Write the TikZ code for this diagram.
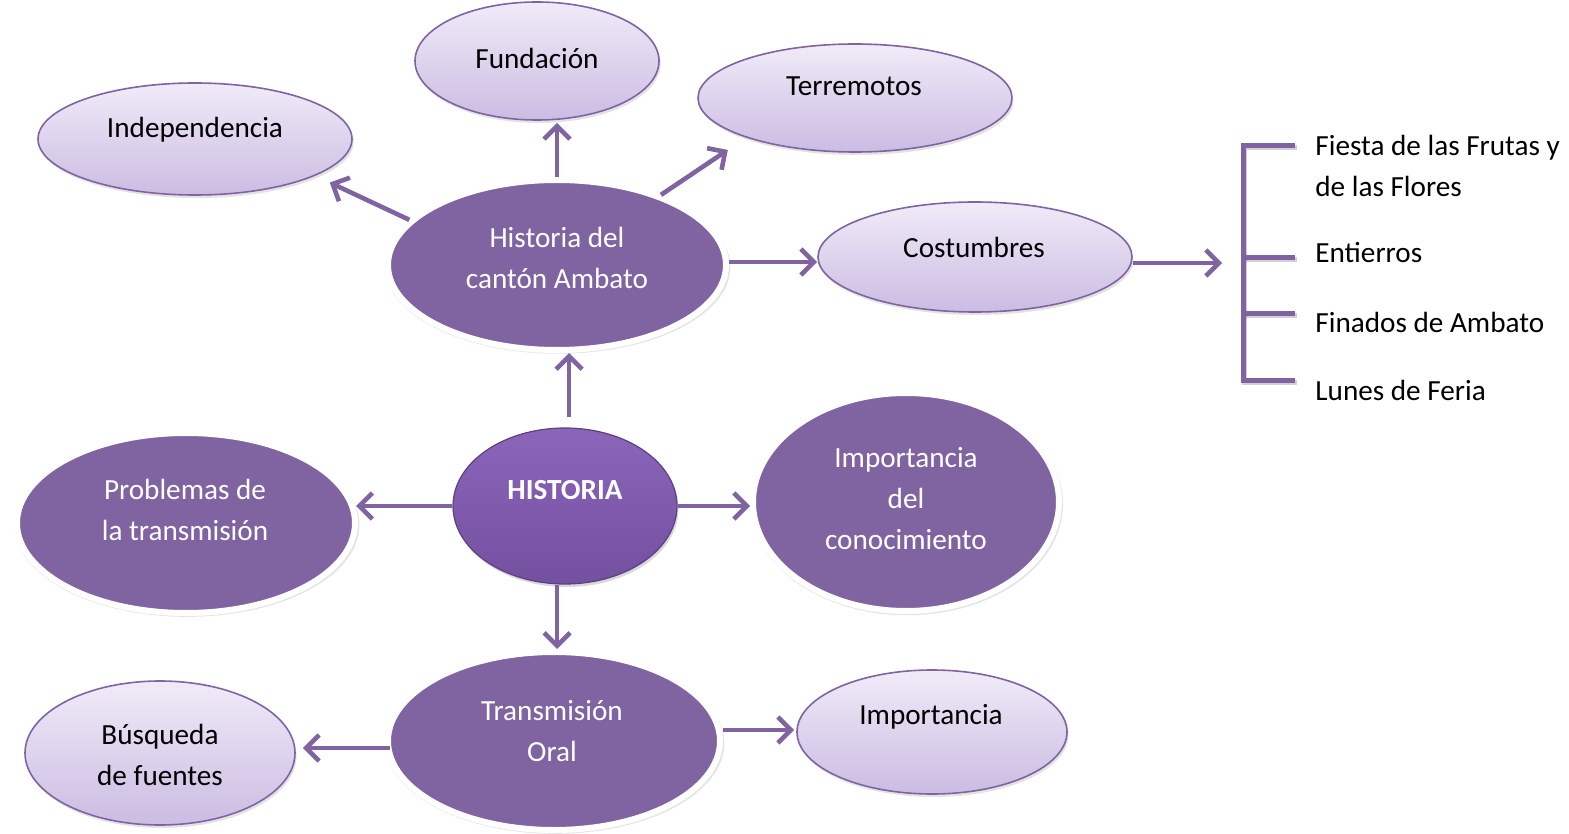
\documentclass[tikz,border=0pt]{standalone}
\usepackage{fontspec}
\setmainfont{Carlito}
\usetikzlibrary{shapes.geometric,arrows.meta,shadows,calc}
\definecolor{pur}{HTML}{8064A2}
\definecolor{ltop}{HTML}{F0EBF8}
\definecolor{lbot}{HTML}{CBBCE2}
\definecolor{htop}{HTML}{8B65BA}
\definecolor{hbot}{HTML}{7450A0}
\definecolor{hbrd}{HTML}{5B4180}
\begin{document}
\begin{tikzpicture}[x=0.5pt,y=-0.5pt,
  light/.style={ellipse, inner sep=0pt, top color=ltop, bottom color=lbot, draw=pur, line width=0.8pt,
    drop shadow={shadow xshift=0.8pt, shadow yshift=-1.5pt, opacity=0.22}},
  dark/.style={ellipse, inner sep=0pt, fill=pur, draw=white, line width=3pt,
    drop shadow={shadow xshift=0.5pt, shadow yshift=-1pt, opacity=0.22, shadow scale=1.02}},
  hist/.style={ellipse, inner sep=0pt, top color=htop, bottom color=hbot, draw=hbrd, line width=0.6pt,
    drop shadow={shadow xshift=0.8pt, shadow yshift=-1.5pt, opacity=0.3}},
  lt/.style={font=\fontsize{14.6}{20.5}\selectfont, text=black, align=center, inner sep=0pt},
  dt/.style={lt, text=white},
  arr/.style={draw=pur, line width=2.3pt, -{Straight Barb[length=6.5pt,width=13pt]}},
  brk/.style={draw=pur, line width=2.5pt},
  brks/.style={draw=black, opacity=0.18, line width=2.5pt}
]
\useasboundingbox (0,0) rectangle (1569,834);

% ellipses
\node[light, minimum width=157pt, minimum height=56pt] (ind) at (195,139) {};
\node[light, minimum width=122pt, minimum height=59pt] (fun) at (537,61) {};
\node[light, minimum width=157pt, minimum height=54pt] (ter) at (855,98) {};
\node[dark, minimum width=169pt, minimum height=85pt] (hca) at (557,265) {};
\node[light, minimum width=157pt, minimum height=55pt] (cos) at (975,257) {};
\node[hist, minimum width=112pt, minimum height=78pt] (his) at (565,506) {};
\node[dark, minimum width=169pt, minimum height=90pt] (pro) at (186,523) {};
\node[dark, minimum width=153pt, minimum height=109pt] (imc) at (906,502) {};
\node[dark, minimum width=166pt, minimum height=89pt] (tra) at (554,741) {};
\node[light, minimum width=135pt, minimum height=72pt] (bus) at (160,753) {};
\node[light, minimum width=135pt, minimum height=62pt] (imp) at (932,732) {};

% texts
\node[lt] (ind-t) at (195,130) {Independencia};
\node[lt] (fun-t) at (537,58) {Fundación};
\node[lt] (ter-t) at (854,86) {Terremotos};
\node[dt] (hca-t) at (557,258) {Historia del\\cantón Ambato};
\node[lt] (cos-t) at (974,247) {Costumbres};
\node[dt, font=\fontsize{14.6}{20.5}\selectfont\bfseries] (his-t) at (565,490) {HISTORIA};
\node[dt] (pro-t) at (185,510) {Problemas de\\la transmisión};
\node[dt] (imc-t) at (906,499) {Importancia\\del\\conocimiento};
\node[dt] (tra-t) at (552,731) {Transmisión\\Oral};
\node[lt] (bus-t) at (160,755) {Búsqueda\\de fuentes};
\node[lt] (imp-t) at (931,717) {Importancia};

% arrows
\draw[arr, shorten >=8pt] (hca.163) -- (ind.-17);
\draw[arr, shorten >=1pt] (hca.north) -- (hca.north |- fun.south);
\draw[arr, shorten >=11pt] (hca.34) -- (ter.200);
\draw[arr] ([yshift=1.5pt]hca.east) -- ([yshift=1.5pt]hca.east -| cos.west);
\coordinate (brkin) at (1222,263);
\draw[arr] (cos.east |- brkin) -- (brkin);
\draw[arr, shorten <=5pt] ([xshift=2pt]his.north) -- ([xshift=2pt]his.north |- hca.south);
\draw[arr, shorten >=-1pt] (his.west) -- (his.west -| pro.east);
\draw[arr] (his.east) -- (his.east -| imc.west);
\draw[arr] ([xshift=-4pt]his.south) -- ([xshift=-4pt]his.south |- tra.north);
\draw[arr, shorten <=-2.5pt, shorten >=3.5pt] ([yshift=-3.5pt]tra.west) -- ([yshift=-3.5pt]tra.west -| bus.east);
\draw[arr, shorten >=1pt] ([yshift=5.5pt]tra.east) -- ([yshift=5.5pt]tra.east -| imp.west);

% bracket
\begin{scope}[xshift=0.8pt, yshift=-1pt]
\draw[brks] (1295,146) -- (1243,146) -- (1243,380) -- (1295,380);
\draw[brks] (1243,258) -- (1295,258);
\draw[brks] (1243,314) -- (1295,314);
\end{scope}
\draw[brk] (1295,146) -- (1243,146) -- (1243,380) -- (1295,380);
\draw[brk] (1243,258) -- (1295,258);
\draw[brk] (1243,314) -- (1295,314);

\node[lt, align=left, anchor=west] (c1) at (1315,166) {Fiesta de las Frutas y\\de las Flores};
\node[lt, anchor=west] (c2) at (1315,253) {Entierros};
\node[lt, anchor=west] (c3) at (1315,322) {Finados de Ambato};
\node[lt, anchor=west] (c4) at (1315,390) {Lunes de Feria};
\end{tikzpicture}
\end{document}
